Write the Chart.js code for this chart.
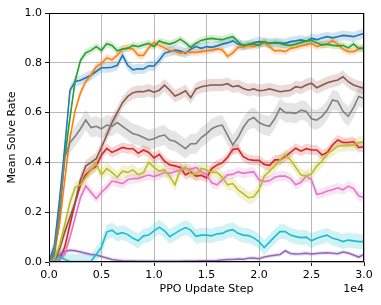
<!DOCTYPE html>
<html><head><meta charset="utf-8">
<script src="https://cdn.jsdelivr.net/npm/chart.js@4/dist/chart.umd.min.js"></script>
<style>html,body{margin:0;padding:0;background:#fff;}</style>
</head><body>
<canvas id="c" width="381" height="305"></canvas>
<script>
const steps = [0,500,1000,1500,2000,2500,3000,3500,4000,4500,5000,5500,6000,6500,7000,7500,8000,8500,9000,9500,10000,10500,11000,11500,12000,12500,13000,13500,14000,14500,15000,15500,16000,16500,17000,17500,18000,18500,19000,19500,20000,20500,21000,21500,22000,22500,23000,23500,24000,24500,25000,25500,26000,26500,27000,27500,28000,28500,29000,29500,30000];
const xTickValues = [0,5000,10000,15000,20000,25000,30000];
const yTickValues = [0,0.2,0.4,0.6,0.8,1.0];

const blue   = [0,0.06,0.25,0.46,0.69,0.725,0.73,0.74,0.75,0.765,0.78,0.78,0.782,0.79,0.83,0.79,0.772,0.776,0.775,0.788,0.787,0.81,0.838,0.845,0.851,0.847,0.838,0.855,0.865,0.858,0.865,0.862,0.868,0.875,0.88,0.888,0.875,0.87,0.872,0.88,0.885,0.882,0.878,0.882,0.88,0.878,0.885,0.888,0.892,0.886,0.898,0.893,0.9,0.905,0.9,0.905,0.91,0.908,0.905,0.912,0.918];
const orange = [0,0.03,0.15,0.33,0.5,0.61,0.68,0.725,0.75,0.785,0.797,0.82,0.812,0.83,0.855,0.86,0.855,0.83,0.83,0.86,0.882,0.87,0.86,0.85,0.845,0.838,0.843,0.842,0.842,0.845,0.848,0.851,0.856,0.852,0.826,0.84,0.862,0.864,0.87,0.865,0.875,0.88,0.865,0.848,0.85,0.845,0.858,0.862,0.868,0.872,0.878,0.865,0.872,0.875,0.89,0.875,0.855,0.845,0.845,0.855,0.862];
const green  = [0,0.03,0.2,0.42,0.58,0.73,0.81,0.84,0.85,0.865,0.85,0.877,0.87,0.848,0.855,0.858,0.87,0.865,0.872,0.878,0.865,0.888,0.88,0.875,0.882,0.895,0.88,0.862,0.878,0.89,0.895,0.898,0.895,0.893,0.9,0.905,0.885,0.868,0.875,0.875,0.87,0.885,0.878,0.88,0.878,0.872,0.87,0.875,0.882,0.888,0.89,0.88,0.872,0.875,0.87,0.868,0.87,0.86,0.875,0.858,0.858];
const red    = [0,0,0.008,0.06,0.15,0.24,0.31,0.35,0.37,0.385,0.43,0.456,0.44,0.45,0.46,0.455,0.455,0.437,0.45,0.44,0.418,0.432,0.405,0.39,0.386,0.38,0.35,0.362,0.345,0.348,0.338,0.375,0.39,0.398,0.42,0.452,0.455,0.423,0.412,0.408,0.408,0.392,0.388,0.41,0.41,0.423,0.44,0.457,0.445,0.455,0.45,0.45,0.43,0.44,0.47,0.49,0.48,0.48,0.483,0.46,0.463];
const purple = [0,0.015,0.03,0.042,0.047,0.045,0.04,0.035,0.03,0.028,0.022,0.016,0.01,0.007,0.005,0.004,0.004,0.003,0.003,0.003,0.003,0.003,0.003,0.003,0.003,0.003,0.004,0.004,0.004,0.005,0.005,0.005,0.006,0.008,0.01,0.01,0.012,0.011,0.015,0.016,0.013,0.02,0.024,0.027,0.03,0.045,0.034,0.032,0.033,0.035,0.032,0.034,0.036,0.037,0.035,0.033,0.04,0.036,0.028,0.02,0.03];
const brown  = [0,0.005,0.05,0.12,0.18,0.24,0.33,0.385,0.4,0.415,0.46,0.51,0.56,0.6,0.64,0.665,0.68,0.685,0.684,0.69,0.682,0.69,0.71,0.69,0.667,0.676,0.688,0.66,0.695,0.704,0.708,0.711,0.711,0.711,0.716,0.704,0.708,0.697,0.69,0.695,0.688,0.69,0.695,0.69,0.684,0.687,0.69,0.704,0.7,0.711,0.718,0.7,0.71,0.72,0.726,0.731,0.744,0.724,0.711,0.704,0.698];
const pink   = [0,0.002,0.01,0.03,0.1,0.18,0.26,0.305,0.28,0.255,0.28,0.3,0.325,0.32,0.315,0.33,0.335,0.336,0.343,0.349,0.343,0.35,0.36,0.356,0.363,0.369,0.376,0.372,0.38,0.363,0.35,0.318,0.31,0.33,0.35,0.352,0.362,0.356,0.36,0.362,0.33,0.323,0.326,0.34,0.345,0.345,0.335,0.31,0.32,0.345,0.33,0.272,0.276,0.285,0.29,0.298,0.29,0.305,0.295,0.265,0.26];
const gray   = [0,0.04,0.2,0.42,0.48,0.505,0.535,0.57,0.54,0.545,0.535,0.55,0.545,0.56,0.545,0.53,0.515,0.51,0.5,0.49,0.495,0.505,0.51,0.49,0.485,0.47,0.455,0.475,0.475,0.5,0.515,0.535,0.545,0.55,0.51,0.47,0.5,0.54,0.57,0.58,0.56,0.55,0.545,0.575,0.617,0.6,0.6,0.597,0.61,0.605,0.575,0.57,0.585,0.61,0.651,0.645,0.605,0.585,0.62,0.665,0.657];
const olive  = [0,0.01,0.065,0.15,0.24,0.3,0.31,0.34,0.37,0.395,0.35,0.375,0.36,0.34,0.365,0.36,0.37,0.35,0.36,0.4,0.38,0.365,0.37,0.343,0.31,0.37,0.382,0.355,0.352,0.376,0.37,0.36,0.36,0.34,0.31,0.315,0.29,0.275,0.258,0.262,0.29,0.345,0.365,0.385,0.41,0.43,0.41,0.38,0.35,0.345,0.355,0.385,0.405,0.435,0.448,0.465,0.468,0.47,0.47,0.48,0.483];
const cyan   = [0,0.005,0.022,0.01,0.003,0.002,0.002,0.002,0.003,0.03,0.06,0.12,0.128,0.112,0.118,0.11,0.095,0.085,0.105,0.108,0.125,0.14,0.125,0.102,0.115,0.128,0.138,0.128,0.103,0.108,0.108,0.105,0.113,0.115,0.125,0.13,0.115,0.108,0.106,0.097,0.082,0.058,0.08,0.102,0.122,0.122,0.108,0.102,0.098,0.1,0.085,0.095,0.102,0.108,0.095,0.09,0.082,0.088,0.085,0.082,0.082];

const seriesNames  = ['blue','orange','green','red','purple','brown','pink','gray','olive','cyan'];
const seriesValues = [blue, orange, green, red, purple, brown, pink, gray, olive, cyan];
const seriesColors = ['#1f77b4','#ff7f0e','#2ca02c','#d62728','#9467bd','#8c564b','#e377c2','#7f7f7f','#bcbd22','#17becf'];
const seriesSpread = [0.02,0.015,0.015,0.02,0.008,0.025,0.02,0.04,0.025,0.03];

function rgba(hex, a){
  const n = parseInt(hex.slice(1),16);
  return `rgba(${(n>>16)&255},${(n>>8)&255},${n&255},${a})`;
}

const datasets = [];
seriesValues.forEach((vals, i) => {
  const w = seriesSpread[i];
  datasets.push({
    label: seriesNames[i]+'_hi',
    data: steps.map((s,k)=>({x:s, y: vals[k] + w})),
    borderWidth: 0, pointRadius: 0, fill: false, order: 100 + i
  });
  datasets.push({
    label: seriesNames[i]+'_lo',
    data: steps.map((s,k)=>({x:s, y: Math.max(0, vals[k] - w)})),
    borderWidth: 0, pointRadius: 0, fill: '-1',
    backgroundColor: rgba(seriesColors[i], 0.2), order: 100 + i
  });
});
seriesValues.forEach((vals, i) => {
  datasets.push({
    label: seriesNames[i],
    data: steps.map((s,k)=>({x:s, y: vals[k]})),
    borderColor: seriesColors[i], borderWidth: 1.6, pointRadius: 0,
    fill: false, tension: 0, order: 20 - i
  });
});

const font = {family: '"DejaVu Sans", sans-serif', size: 11};

const framePlugin = {
  id: 'frame',
  afterDraw(chart) {
    const {ctx, chartArea: a} = chart;
    ctx.save();
    ctx.strokeStyle = '#000';
    ctx.lineWidth = 1;
    const l = Math.round(a.left) + 0.5, t = Math.round(a.top) + 0.5;
    const r = Math.round(a.right) - 0.5, b = Math.round(a.bottom) - 0.5;
    ctx.strokeRect(l, t, r - l, b - t);
    ctx.fillStyle = '#000';
    ctx.font = '11px "DejaVu Sans", sans-serif';
    ctx.textAlign = 'right';
    ctx.textBaseline = 'alphabetic';
    ctx.fillText('1e4', a.right, 292);
    ctx.restore();
  }
};

new Chart(document.getElementById('c'), {
  type: 'line',
  data: { datasets },
  options: {
    responsive: false, animation: false, devicePixelRatio: 1,
    layout: { padding: { left: 0, top: 13, right: 17, bottom: 0 } },
    plugins: { legend: {display: false}, tooltip: {enabled: false} },
    scales: {
      x: {
        type: 'linear', min: 0, max: 30000,
        afterFit(s){ s.height = 43; },
        afterBuildTicks(s){ s.ticks = xTickValues.map(v=>({value:v})); },
        ticks: { color: '#000', font, padding: 3, maxRotation: 0,
                 callback: v => (v/10000).toFixed(1) },
        grid: { color: '#b0b0b0', lineWidth: 0.9, tickColor: '#000', tickLength: 4, drawTicks: true },
        border: { display: false },
        title: { display: true, text: 'PPO Update Step', color: '#000', font, padding: {top: 0, bottom: 9} }
      },
      y: {
        type: 'linear', min: 0, max: 1,
        afterFit(s){ s.width = 49; },
        afterBuildTicks(s){ s.ticks = yTickValues.map(v=>({value:v})); },
        ticks: { color: '#000', font, padding: 3, callback: v => v.toFixed(1) },
        grid: { color: '#b0b0b0', lineWidth: 0.9, tickColor: '#000', tickLength: 4, drawTicks: true },
        border: { display: false },
        title: { display: true, text: 'Mean Solve Rate', color: '#000', font, padding: {top: 6, bottom: 0} }
      }
    }
  },
  plugins: [framePlugin]
});
</script>
</body></html>
